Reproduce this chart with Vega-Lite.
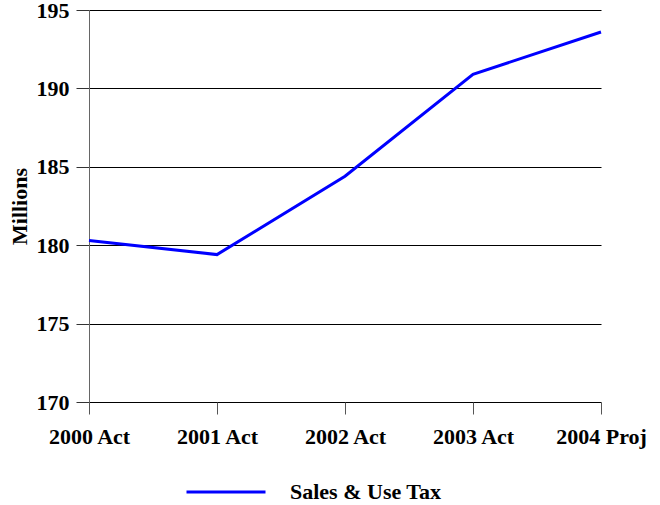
{
  "$schema": "https://vega.github.io/schema/vega-lite/v6.json",
  "width": 512,
  "height": 392,
  "autosize": {"type": "none"},
  "padding": {"left": 89, "top": 10, "right": 59, "bottom": 103},
  "background": "white",
  "config": {
    "view": {"stroke": null},
    "font": "Liberation Serif"
  },
  "data": {
    "values": [
      {"year": "2000 Act", "value": 180.3, "series": "Sales & Use Tax"},
      {"year": "2001 Act", "value": 179.4, "series": "Sales & Use Tax"},
      {"year": "2002 Act", "value": 184.4, "series": "Sales & Use Tax"},
      {"year": "2003 Act", "value": 190.9, "series": "Sales & Use Tax"},
      {"year": "2004 Proj", "value": 193.6, "series": "Sales & Use Tax"}
    ]
  },
  "mark": {"type": "line", "strokeWidth": 3},
  "encoding": {
    "x": {
      "field": "year",
      "type": "ordinal",
      "scale": {"type": "point", "padding": 0},
      "axis": {
        "title": null,
        "labelAngle": 0,
        "labelFont": "Liberation Serif",
        "labelFontSize": 22,
        "labelFontWeight": "bold",
        "labelColor": "black",
        "tickSize": 12,
        "tickColor": "#555",
        "labelPadding": 12,
        "domain": false,
        "grid": false
      }
    },
    "y": {
      "field": "value",
      "type": "quantitative",
      "scale": {"domain": [170, 195], "nice": false, "zero": false},
      "axis": {
        "title": "Millions",
        "titleFont": "Liberation Serif",
        "titleFontSize": 22,
        "titleFontWeight": "bold",
        "titleColor": "black",
        "titlePadding": 5,
        "values": [170, 175, 180, 185, 190, 195],
        "labelFont": "Liberation Serif",
        "labelFontSize": 22,
        "labelFontWeight": "bold",
        "labelColor": "black",
        "labelPadding": 7,
        "tickSize": 13,
        "tickColor": "#333",
        "domainColor": "#666",
        "gridColor": "black",
        "gridOpacity": 1,
        "gridWidth": 1,
        "grid": true
      }
    },
    "color": {
      "field": "series",
      "type": "nominal",
      "scale": {"range": ["#0000FF"]},
      "legend": {
        "title": null,
        "orient": "none",
        "legendX": 96,
        "legendY": 441,
        "symbolType": "stroke",
        "symbolSize": 6241,
        "symbolStrokeWidth": 3,
        "labelOffset": 23,
        "labelFont": "Liberation Serif",
        "labelFontSize": 22,
        "labelFontWeight": "bold",
        "labelColor": "black"
      }
    }
  }
}
